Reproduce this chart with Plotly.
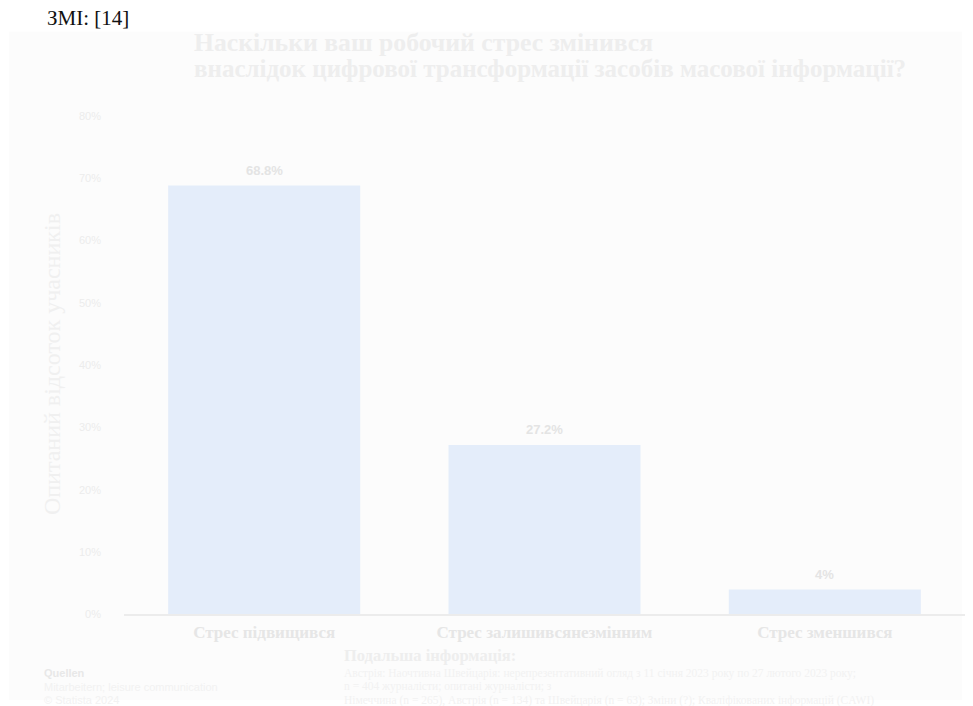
import plotly.graph_objects as go

categories = ["Стрес підвищився", "Стрес залишивсянезмінним", "Стрес зменшився"]
values = [68.8, 27.2, 4.0]
value_labels = ["68.8%", "27.2%", "4%"]
y_ticks = [0, 10, 20, 30, 40, 50, 60, 70, 80]
y_tick_labels = ["0%", "10%", "20%", "30%", "40%", "50%", "60%", "70%", "80%"]

W, H = 973, 706
SERIF = "Liberation Serif, Times New Roman, serif"
SANS = "Liberation Sans, Arial, sans-serif"

def px(x):
    return x / W

def py(y):
    t = (y - 6.35) / 0.9817
    return 1 - t / H

fig = go.Figure()
fig.add_trace(go.Bar(
    x=categories, y=values,
    marker=dict(color="#e4edfa", line=dict(width=0)),
    hoverinfo="skip",
))

annotations = []
for c, v, t in zip(categories, values, value_labels):
    annotations.append(dict(text="<b>" + t + "</b>", x=c, y=v, xref="x", yref="y",
                            xanchor="center", yanchor="bottom", yshift=6, showarrow=False,
                            font=dict(family=SANS, size=13, color="#e4e4e4")))

texts = [
    dict(text="ЗМІ: [14]", x=px(45), y=py(18), xanchor="left", yanchor="middle",
         font=dict(family=SERIF, size=21, color="#111111")),
    dict(text="<b>Наскільки ваш робочий стрес змінився</b>", x=px(192), y=py(43),
         xanchor="left", yanchor="middle", font=dict(family=SERIF, size=25.7, color="#eeeeee")),
    dict(text="<b>внаслідок цифрової трансформації засобів масової інформації?</b>", x=px(192), y=py(69),
         xanchor="left", yanchor="middle", font=dict(family=SERIF, size=25, color="#eeeeee")),
    dict(text="Опитаний відсоток учасників", x=px(52), y=py(364), textangle=-90,
         xanchor="center", yanchor="middle", font=dict(family=SERIF, size=24, color="#f0f0f0")),
    dict(text="<b>Подальша інформація:</b>", x=px(342), y=py(655), xanchor="left", yanchor="middle",
         font=dict(family=SERIF, size=16.5, color="#eeeeee")),
    dict(text="Австрія: Наочтивна Швейцарія: нерепрезентативний огляд з 11 січня 2023 року по 27 лютого 2023 року;",
         x=px(342), y=py(673), xanchor="left", yanchor="middle",
         font=dict(family=SERIF, size=11.5, color="#f2f2f2")),
    dict(text="n = 404 журналісти; опитані журналісти; з",
         x=px(342), y=py(686), xanchor="left", yanchor="middle",
         font=dict(family=SERIF, size=11.5, color="#f2f2f2")),
    dict(text="Німеччина (n = 265), Австрія (n = 134) та Швейцарія (n = 63); Зміни (?); Кваліфікованих інформацій (CAWI)",
         x=px(342), y=py(699.5), xanchor="left", yanchor="middle",
         font=dict(family=SERIF, size=11.5, color="#f2f2f2")),
    dict(text="<b>Quellen</b>", x=px(42), y=py(672), xanchor="left", yanchor="middle",
         font=dict(family=SANS, size=11, color="#e8e8e8")),
    dict(text="Mitarbeitern; leisure communication", x=px(42), y=py(686), xanchor="left", yanchor="middle",
         font=dict(family=SANS, size=11, color="#f2f2f2")),
    dict(text="© Statista 2024", x=px(42), y=py(699.5), xanchor="left", yanchor="middle",
         font=dict(family=SANS, size=11, color="#f2f2f2")),
]
for a in texts:
    a.update(xref="paper", yref="paper", showarrow=False)
annotations += texts

fig.update_layout(
    autosize=True,
    margin=dict(l=0, r=0, t=0, b=0),
    paper_bgcolor="white", plot_bgcolor="rgba(0,0,0,0)",
    showlegend=False, bargap=0.315,
    annotations=annotations,
    shapes=[dict(type="rect", xref="paper", yref="paper",
                 x0=px(9), x1=px(962), y0=0, y1=py(32),
                 fillcolor="#fcfcfc", line=dict(width=0), layer="below")],
    xaxis=dict(domain=[px(124), px(965)], showgrid=False, showline=True,
               linecolor="#ececec", linewidth=2, ticks="outside", ticklen=1,
               tickcolor="rgba(0,0,0,0)",
               tickfont=dict(family=SERIF, size=17, color="#e6e6e6"),
               tickprefix="<b>", ticksuffix="</b>"),
    yaxis=dict(domain=[py(614), py(116)], range=[0, 80], tickvals=y_ticks,
               ticktext=y_tick_labels, showgrid=False, zeroline=False, showline=False,
               ticks="", ticklabelstandoff=22,
               tickfont=dict(family=SANS, size=11, color="#ececec")),
)

fig.write_html("out.html", config={"displayModeBar": False},
               default_width="100vw", default_height="100vh",
               post_script="document.body.style.margin='0';document.body.style.overflow='hidden';")
